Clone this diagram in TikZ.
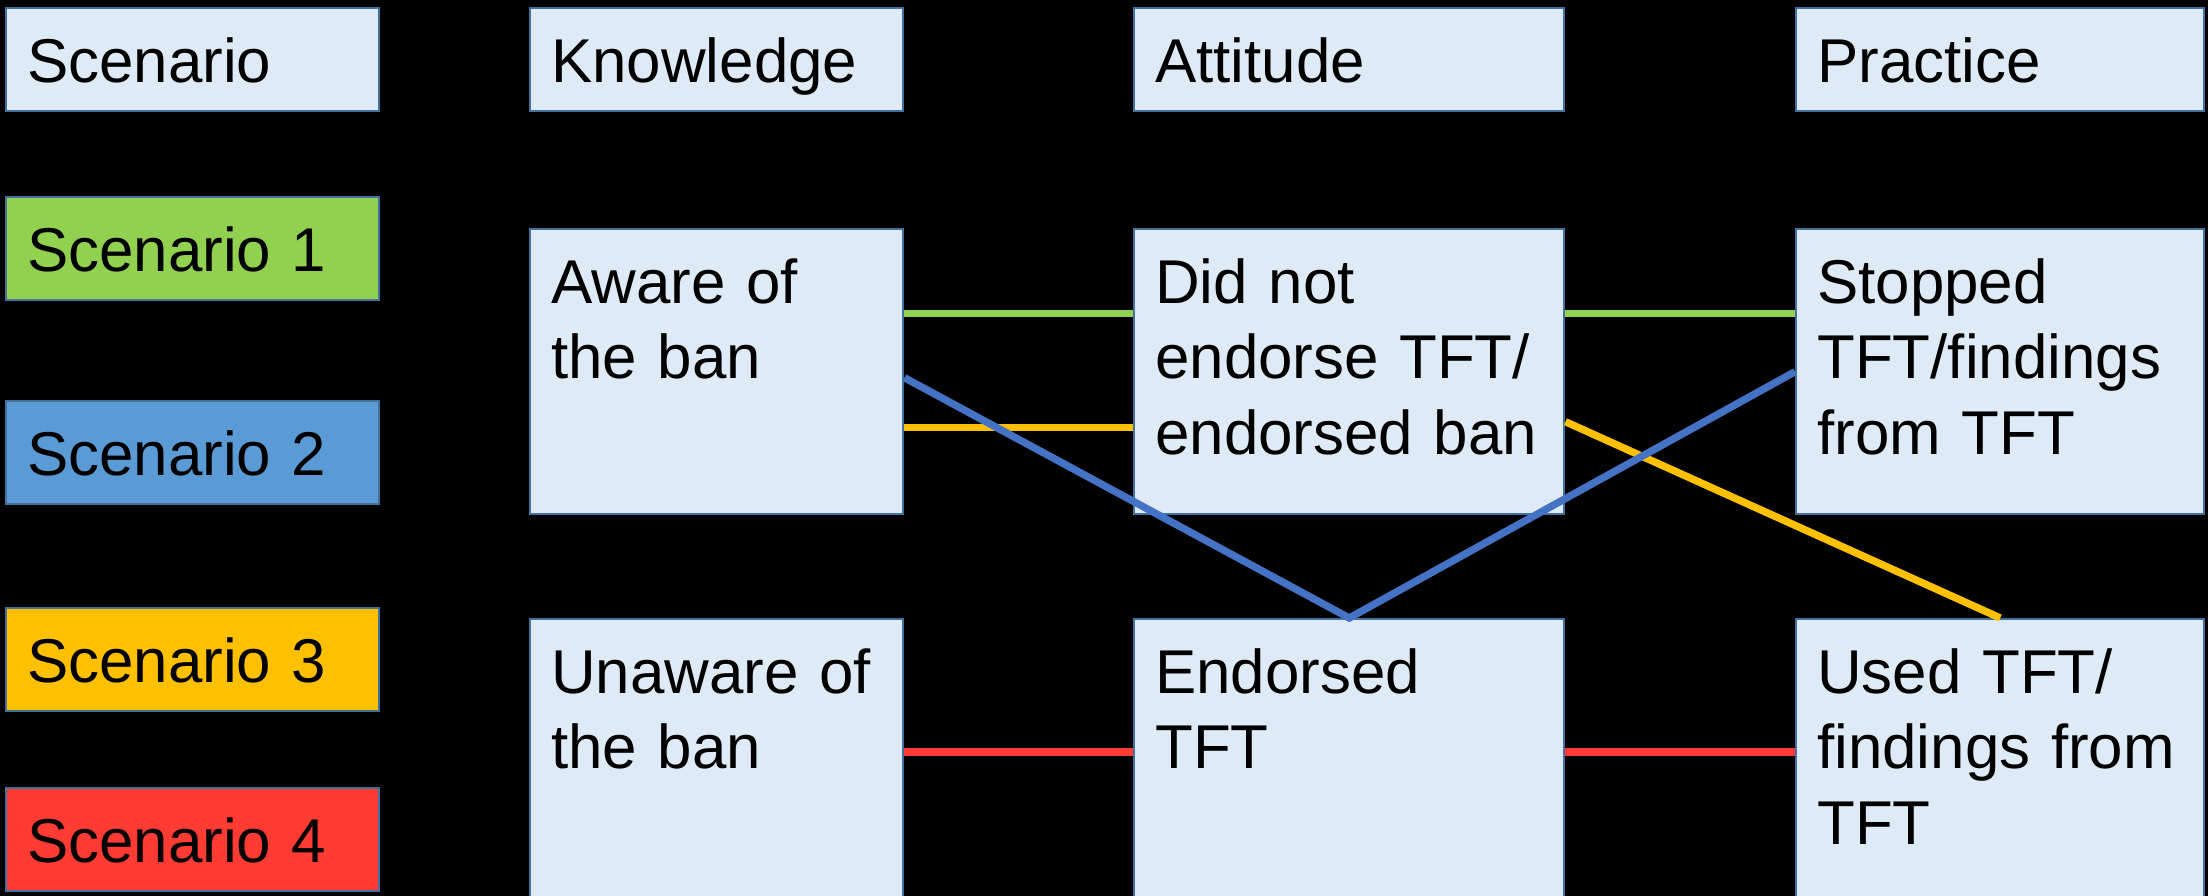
\documentclass[tikz,border=0pt]{standalone}
\usepackage{fontspec}
\setmainfont{Liberation Sans}
\hfuzz=10pt

\definecolor{boxfill}{HTML}{DEEBF7}
\definecolor{boxline}{HTML}{41719C}
\definecolor{scgreen}{HTML}{92D050}
\definecolor{scblue}{HTML}{5B9BD5}
\definecolor{scyellow}{HTML}{FFC000}
\definecolor{scred}{HTML}{FF3B33}
\definecolor{lnblue}{HTML}{4472C4}

\begin{document}
\begin{tikzpicture}[font=\fontsize{17.6}{21.5}\selectfont,
  cell/.style={draw=boxline, line width=0.7pt, fill=boxfill, anchor=north west,
    align=left, inner xsep=0.21cm, inner ysep=0pt, text height=0.74cm},
  hdr/.style={cell, text depth=0.29cm},
  tall/.style={cell, text depth=2.11cm},
  low/.style={cell, text depth=2.22cm},
  scw/.style={text width=3.31cm},
  attw/.style={text width=3.88cm},
  prw/.style={text width=3.66cm},
  seg/.style={line width=2.1pt},
]

% Background
\useasboundingbox (0,0) rectangle (22.08,-8.96);
\fill[black] (0,0) rectangle (22.08,-8.96);

% Header row
\node[hdr,scw]  (hscen) at (0.05,-0.07) {Scenario};
\node[hdr,scw]  (hknow) at (5.29,-0.07) {Knowledge};
\node[hdr,attw] (hatt)  at (11.33,-0.07) {Attitude};
\node[hdr,prw]  (hprac) at (17.95,-0.07) {Practice};

% Scenario legend
\node[hdr,scw,fill=scgreen]  (scen1) at (0.05,-1.96) {Scenario 1};
\node[hdr,scw,fill=scblue]   (scen2) at (0.05,-4.00) {Scenario 2};
\node[hdr,scw,fill=scyellow] (scen3) at (0.05,-6.07) {Scenario 3};
\node[hdr,scw,fill=scred]    (scen4) at (0.05,-7.87) {Scenario 4};

% Upper row
\node[tall,scw]  (aware)   at (5.29,-2.28)  {Aware of\\the ban};
\node[tall,attw] (didnot)  at (11.33,-2.28) {Did not\\endorse TFT/\\\mbox{endorsed ban}};
\node[tall,prw]  (stopped) at (17.95,-2.28) {Stopped\\TFT/findings\\from TFT};

% Lower row
\node[low,scw]  (unaware)  at (5.29,-6.18)  {Unaware of\\the ban};
\node[low,attw] (endorsed) at (11.33,-6.18) {Endorsed\\TFT};
\node[low,prw]  (used)     at (17.95,-6.18) {Used TFT/\\\mbox{findings from}\\TFT};

% Scenario 1
\draw[seg,scgreen] ([yshift=0.585cm]aware.east) -- ([yshift=0.585cm]didnot.west);
\draw[seg,scgreen] ([yshift=0.585cm]didnot.east) -- ([yshift=0.585cm]stopped.west);

% Scenario 3
\draw[seg,scyellow] ([yshift=-0.555cm]aware.east) -- ([yshift=-0.555cm]didnot.west);
\draw[seg,scyellow] ([yshift=-0.50cm]didnot.east) -- (used.north);

% Scenario 2
\draw[seg,lnblue] ([yshift=-0.06cm]aware.east) -- (endorsed.north) -- (stopped.west);

% Scenario 4
\draw[seg,scred] ([yshift=-1.34cm]unaware.north east) -- ([yshift=-1.34cm]endorsed.north west);
\draw[seg,scred] ([yshift=-1.34cm]endorsed.north east) -- ([yshift=-1.34cm]used.north west);

\end{tikzpicture}
\end{document}
